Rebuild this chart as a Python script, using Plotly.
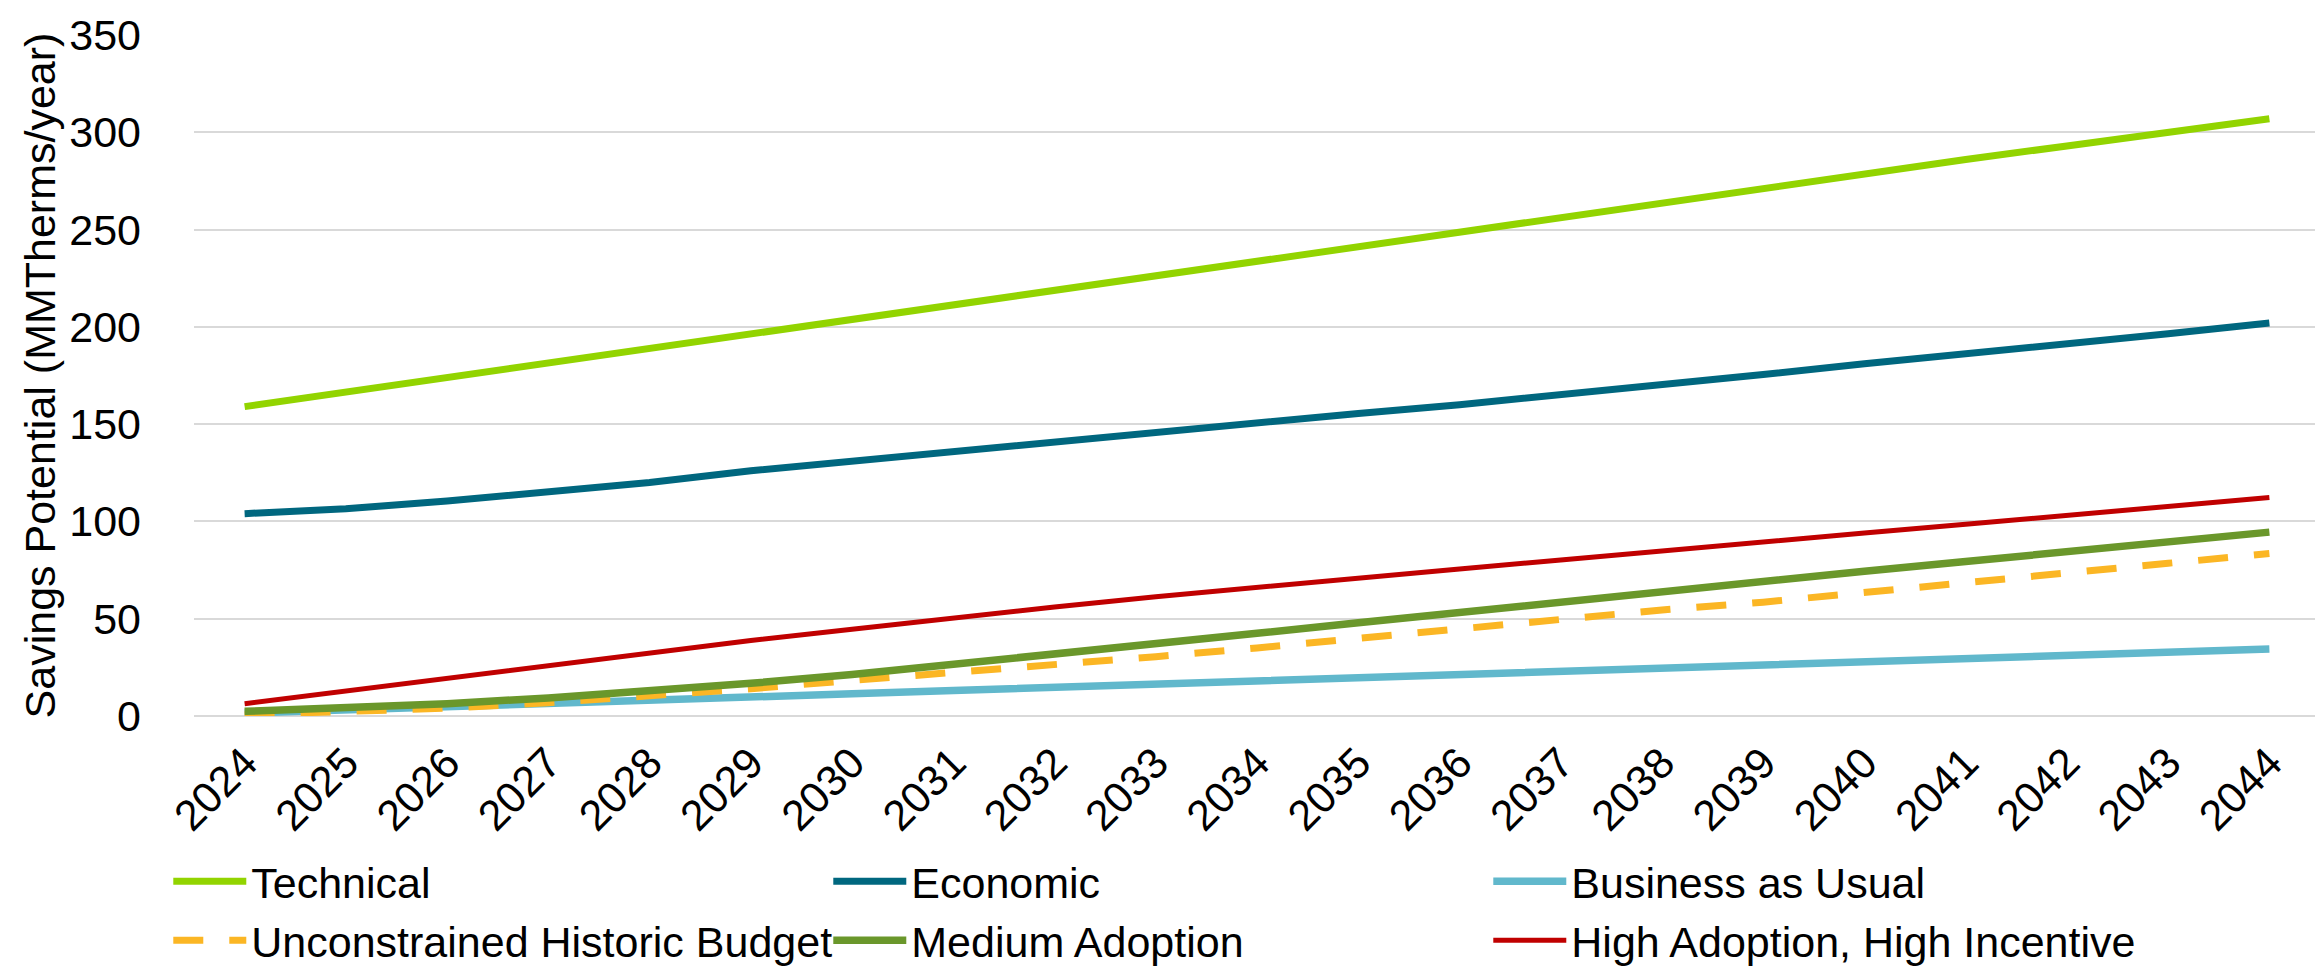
import plotly.graph_objects as go

years = ["2024", "2025", "2026", "2027", "2028", "2029", "2030", "2031", "2032", "2033", "2034",
         "2035", "2036", "2037", "2038", "2039", "2040", "2041", "2042", "2043", "2044"]

technical = [159, 166.5, 174, 181.5, 189, 196.5, 204, 211.5, 219, 226.5, 234,
             241.5, 249, 256.5, 264, 271.5, 279, 286, 293, 300, 307]
economic = [104, 106.5, 110.5, 115, 120, 126, 131, 136, 141, 146, 150.5,
            155.5, 160, 165, 170, 175.5, 181, 186, 191, 196.5, 202]
business_as_usual = [1.5, 3, 4.6, 6.2, 7.8, 9.6, 11.4, 13.1, 14.8, 16.3, 17.9,
                     19.5, 21.1, 22.8, 24.4, 26, 27.8, 29.5, 31.2, 32.8, 34.4]
unconstrained_budget = [0.7, 2.3, 4, 6.8, 10, 14, 18.3, 22.3, 25.8, 30.5, 35,
                        40, 45, 49.7, 54.5, 58.5, 63.7, 68, 73.3, 78.5, 83.5]
medium_adoption = [2.4, 4, 6.3, 9.3, 12.8, 16.8, 21.3, 26.4, 32.3, 37.3, 42.5,
                   47.9, 53.3, 58.8, 64.2, 69.3, 74.4, 79.4, 84.4, 89.4, 94.5]
high_adoption = [6.3, 12.8, 19.4, 26, 32.5, 38.8, 44.6, 50.4, 56, 61.3, 66.2,
                 71, 75.6, 80.2, 85, 89.5, 94, 98.5, 103, 107.5, 112.3]

# legend order matches the reference (row by row)
series = [
    ("Technical", technical, "#92D400", 7, None),
    ("Economic", economic, "#00677F", 7, None),
    ("Business as Usual", business_as_usual, "#61B8CC", 7.5, None),
    ("Unconstrained Historic Budget", unconstrained_budget, "#FBB624", 7, "30px,26px"),
    ("Medium Adoption", medium_adoption, "#6A972B", 7.5, None),
    ("High Adoption, High Incentive", high_adoption, "#C00000", 5, None),
]
# draw order: bottom-most first so that red/green sit above the dashed line
draw_order = [2, 3, 4, 5, 1, 0]

FONT = "Liberation Sans, Arial, sans-serif"
FS = 43

fig = go.Figure()
for idx in draw_order:
    name, vals, color, width, dash = series[idx]
    fig.add_trace(go.Scatter(
        x=years, y=vals, mode="lines", name=name,
        line=dict(color=color, width=width, dash=dash),
        legendrank=idx + 1,
    ))

fig.update_layout(
    width=2323, height=972,
    paper_bgcolor="white", plot_bgcolor="white",
    margin=dict(l=186, r=11, t=27, b=264, autoexpand=False),
    font=dict(family=FONT, size=FS, color="black"),
    showlegend=True,
    legend=dict(
        orientation="h", xref="container", yref="container",
        x=0.069, xanchor="left", y=0.137, yanchor="top",
        itemwidth=73, entrywidth=572, entrywidthmode="pixels",
        font=dict(family=FONT, size=FS, color="black"),
        bgcolor="rgba(0,0,0,0)", traceorder="normal",
    ),
)
fig.update_xaxes(
    type="category", range=[-0.5, 20.5], tickangle=-45,
    showgrid=False, showline=False, ticks="", ticklabelstandoff=12,
    tickfont=dict(family=FONT, size=FS, color="black"), automargin=False,
)
fig.update_yaxes(
    range=[0, 350], dtick=50, showgrid=True, gridcolor="#D9D9D9", gridwidth=2,
    zeroline=True, zerolinecolor="#D9D9D9", zerolinewidth=2,
    showline=False, ticks="", ticklabelstandoff=52,
    tickfont=dict(family=FONT, size=FS, color="black"),
    title=dict(text="Savings Potential (MMTherms/year)", standoff=0,
               font=dict(family=FONT, size=FS, color="black")),
    automargin=False,
)

fig.write_html("out.html")
